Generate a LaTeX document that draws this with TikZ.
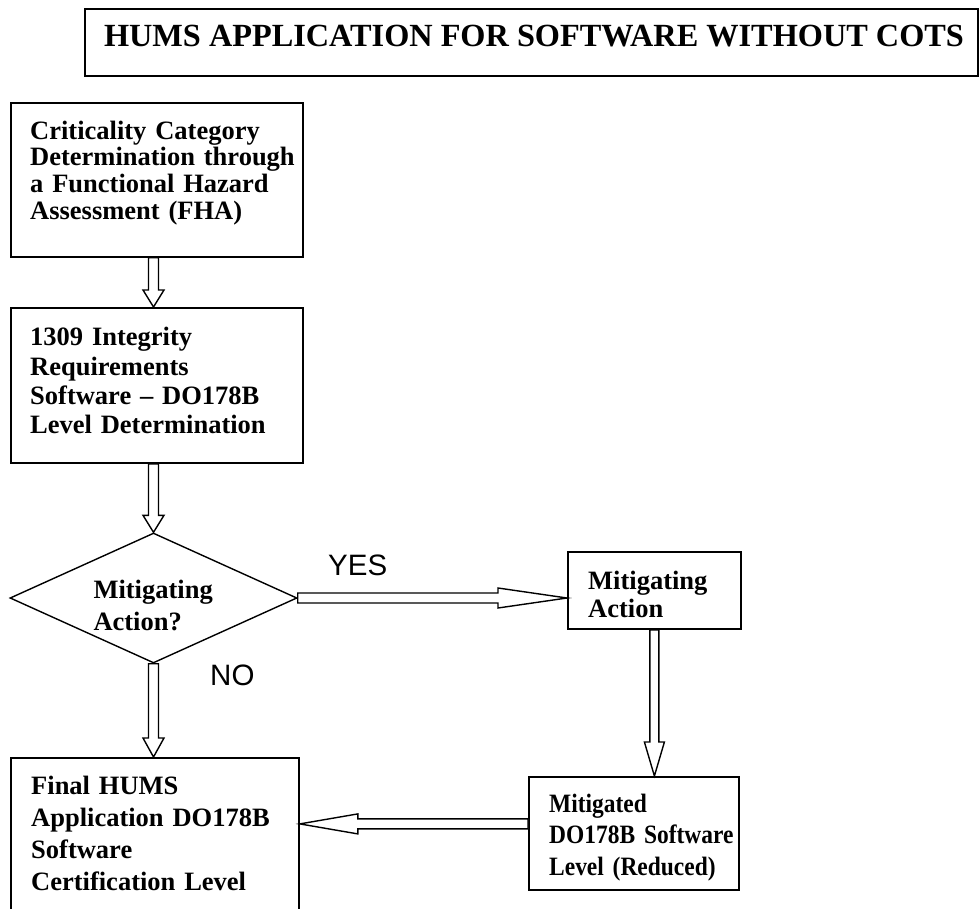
\documentclass[tikz,border=0pt]{standalone}
\usepackage{fontspec}
\setmainfont{Liberation Serif}
\setsansfont{Liberation Sans}
\newfontfamily\condserif[FakeStretch=0.885]{Liberation Serif}
\usetikzlibrary{calc,shapes.geometric}
\tikzset{
  box/.style={draw, line width=1.8pt, rectangle, inner sep=0pt, anchor=north west},
  txt/.style={anchor=base west, inner sep=0pt, text width=320pt, align=left},
  blk/.style={draw, fill=white, line width=1.4pt, line join=miter},
  lbl/.style={anchor=base west, inner sep=0pt, font=\sffamily\fontsize{29.5}{30}\selectfont}
}
\newcommand{\bfs}[1]{\bfseries\fontsize{26.5}{#1}\selectfont}
% #1 start, #2 tip, #3 head length, #4 half shaft, #5 half head
\newcommand{\blockarrow}[5]{%
  \coordinate (hb) at ($(#2)!#3!(#1)$);
  \draw[blk] ($(#1)!#4!90:(#2)$) -- ($(hb)!#4!90:(#2)$) -- ($(hb)!#5!90:(#2)$) -- (#2)
    -- ($(hb)!#5!-90:(#2)$) -- ($(hb)!#4!-90:(#2)$) -- ($(#1)!#4!-90:(#2)$) -- cycle;
}
\begin{document}
\begin{tikzpicture}[x=1pt,y=-1pt]
\useasboundingbox[fill=white] (0,0) rectangle (979,909);
% title
\node[box, minimum width=893pt, minimum height=67pt] (title) at (84,8) {};
\node[anchor=base, inner sep=0pt, font=\bfseries\fontsize{32.3}{34}\selectfont] (ttitle) at (534,47) {HUMS APPLICATION FOR SOFTWARE WITHOUT COTS};
% boxes
\node[box, minimum width=292pt, minimum height=154pt] (b1) at (10,102) {};
\node[txt, font=\bfs{26.7}] (t1) at (30,139.3) {Criticality Category\\Determination through\\a Functional Hazard\\Assessment (FHA)};
\node[box, minimum width=292pt, minimum height=155pt] (b2) at (10,307) {};
\node[txt, font=\bfs{29.3}] (t2) at (30,345.7) {1309 Integrity\\Requirements\\Software -- DO178B\\Level Determination};
\node[draw, diamond, line width=1.4pt, minimum width=287pt, minimum height=130pt, inner sep=0pt] (dia) at (153.5,598) {};
\node[txt, font=\bfs{31.7}] (td) at (93.3,598.3) {Mitigating\\Action?};
\node[box, minimum width=173pt, minimum height=77pt] (ma) at (567,551) {};
\node[txt, font=\bfs{28}] (tma) at (588,589.3) {Mitigating\\Action};
\node[box, minimum width=210pt, minimum height=113pt] (mit) at (528,776) {};
\node[txt, font=\condserif\bfs{31.5}] (tmit) at (549,812) {Mitigated\\DO178B Software\\Level (Reduced)};
\node[box, minimum width=288pt, minimum height=160pt] (fin) at (10,757) {};
\node[txt, font=\bfs{32}] (tfin) at (31,794) {Final HUMS\\Application DO178B\\Software\\Certification Level};
% labels
\node[lbl] (yes) at (328,575) {YES};
\node[lbl] (no) at (210,685) {NO};
% arrows
\coordinate (a1s) at (dia.north |- b1.south);
\coordinate (a1t) at (dia.north |- b2.north);
\blockarrow{a1s}{a1t}{17pt}{5pt}{10.5pt}
\coordinate (a2s) at (dia.north |- b2.south);
\blockarrow{a2s}{dia.north}{17pt}{5pt}{10.5pt}
\coordinate (a3t) at (dia.south |- fin.north);
\blockarrow{dia.south}{a3t}{19pt}{5pt}{10.5pt}
\coordinate (a4t) at (ma.west |- dia.east);
\blockarrow{dia.east}{a4t}{69pt}{5pt}{10pt}
\coordinate (a5t) at (ma.south |- mit.north);
\blockarrow{ma.south}{a5t}{34pt}{4.5pt}{10pt}
\coordinate (a6s) at ($(mit.west)+(0,-9.5)$);
\coordinate (a6t) at (fin.east |- a6s);
\blockarrow{a6s}{a6t}{58pt}{5pt}{10pt}
\end{tikzpicture}
\end{document}
